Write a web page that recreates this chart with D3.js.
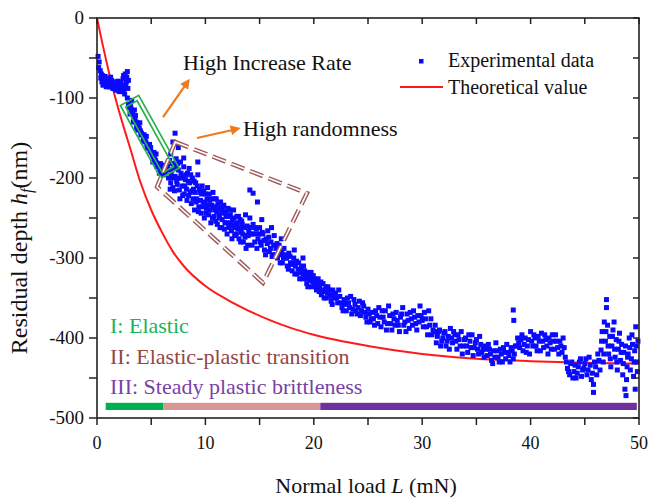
<!DOCTYPE html>
<html><head><meta charset="utf-8">
<script src="https://cdn.jsdelivr.net/npm/d3@7/dist/d3.min.js"></script>
<style>
html,body{margin:0;padding:0;background:#fff;}
svg{display:block;}
</style></head>
<body>
<svg id="chart" width="649" height="500" font-family="'Liberation Serif','Times New Roman',Times,serif"></svg>
<script>
// ---------- data ----------
const xTicks = [0, 10, 20, 30, 40, 50];
const yTicks = [0, -100, -200, -300, -400, -500];
const theoLoad  = [0, 0.5, 1, 1.5, 2, 2.5, 3, 4, 5, 6, 7, 8, 10, 12, 14, 16, 18, 20, 25, 30, 35, 40, 45, 50];
const theoDepth = [0, -32, -62, -90, -115, -138, -160, -205, -240, -268, -292, -310, -335, -352, -366, -378, -388, -396, -410, -420, -426, -429, -431, -432];
const expLoad = [
 0.1,0.2,0.3,0.35,0.45,0.5,0.6,0.7,0.8,0.9,1.0,1.1,1.2,1.3,1.4,1.5,1.6,1.7,1.8,1.9,2.0,2.1,2.2,2.3,2.4,2.5,2.6,2.7,2.8,2.9,2.55,2.35,1.95,1.25,0.75,
 2.8,2.9,3.0,3.1,3.2,3.3,3.4,3.5,3.6,3.7,3.8,3.9,4.0,4.1,4.2,4.3,4.4,4.5,4.6,4.7,4.8,4.9,5.0,5.1,5.2,5.3,5.4,5.5,5.6,5.7,5.8,5.9,6.0,6.1,6.2,6.3,6.4,6.5,
 3.05,3.35,3.65,3.95,4.25,4.55,4.85,5.15,5.45,5.75,6.05,3.2,3.45,
 6.6,6.7,6.8,6.9,7.0,7.1,7.2,7.3,7.4,7.5,7.6,7.7,7.8,7.9,8.0,8.1,8.2,8.3,8.4,8.5,8.6,8.7,8.8,8.9,9.0,9.1,9.2,9.3,9.4,9.5,9.6,9.7,9.8,9.9,10.0,10.1,10.2,10.3,10.4,10.5,10.6,10.7,10.8,10.9,11.0,11.1,11.2,11.3,11.4,11.5,11.6,11.7,11.8,11.9,12.0,12.1,12.2,12.3,12.4,12.5,12.6,12.7,12.8,12.9,13.0,13.1,13.2,13.3,13.4,13.5,13.6,13.7,13.8,13.9,14.0,
 7.2,7.0,7.5,6.8,14.1,14.4,14.8,8.0,9.3,
 14.1,14.25,14.4,14.55,14.7,14.85,15.0,15.15,15.3,15.45,15.6,15.75,15.9,16.05,16.2,16.35,16.5,16.65,16.8,16.95,17.1,17.25,17.4,17.55,17.7,17.85,18.0,18.15,18.3,18.45,18.6,18.75,18.9,19.05,19.2,19.35,19.5,19.65,19.8,19.95,20.1,20.25,20.4,20.55,20.7,20.85,21.0,21.15,21.3,21.45,21.6,21.75,21.9,
 15.2,16.1,17.0,18.2,19.0,
 22.0,22.2,22.4,22.6,22.8,23.0,23.2,23.4,23.6,23.8,24.0,24.2,24.4,24.6,24.8,25.0,25.2,25.4,25.6,25.8,26.0,26.2,26.4,26.6,26.8,27.0,27.2,27.4,27.6,27.8,28.0,28.2,28.4,28.6,28.8,29.0,29.2,29.4,29.6,29.8,30.0,30.2,30.4,30.6,30.8,31.0,
 25.3,26.9,28.5,30.5,
 31.2,31.4,31.6,31.8,32.0,32.2,32.4,32.6,32.8,33.0,33.2,33.4,33.6,33.8,34.0,34.2,34.4,34.6,34.8,35.0,35.2,35.4,35.6,
 35.8,36.0,36.2,36.4,36.6,36.8,37.0,37.2,37.4,37.6,37.8,38.0,38.2,38.4,38.6,38.4,38.45,
 38.8,39.0,39.2,39.4,39.6,39.8,40.0,40.2,40.4,40.6,40.8,41.0,41.2,41.4,41.6,41.8,42.0,42.2,42.4,42.6,42.8,43.0,
 43.2,43.4,43.6,43.8,44.0,44.2,44.4,44.6,44.8,45.0,45.2,45.4,45.6,45.8,45.8,46.0,46.2,46.4,
 46.5,46.6,46.7,46.8,46.9,47.0,47.0,47.1,47.2,47.3,47.4,47.5,47.6,47.7,47.8,47.9,48.0,48.1,48.2,48.3,48.4,48.5,48.6,48.7,48.8,48.9,49.0,49.1,49.2,49.3,49.4,49.5,49.6,49.7,49.8,49.9
];
const expDepth = [
 -48,-55,-66,-75,-80,-72,-78,-82,-76,-80,-84,-78,-82,-86,-80,-84,-88,-82,-86,-90,-84,-88,-80,-92,-76,-86,-70,-80,-67,-78,-95,-84,-79,-74,-73,
 -100,-108,-112,-110,-118,-120,-124,-126,-130,-131,-136,-138,-141,-144,-146,-150,-152,-155,-158,-160,-163,-166,-168,-171,-173,-176,-178,-181,-183,-185,-188,-189,-190,-192,-190,-193,-188,-185,
 -120,-130,-137,-131,-154,-148,-158,-180,-170,-194,-184,-103,-115,
 -200,-178,-206,-190,-212,-184,-198,-176,-208,-190,-215,-180,-200,-222,-186,-210,-196,-228,-204,-188,-218,-232,-200,-214,-240,-206,-226,-196,-236,-218,-244,-210,-230,-250,-220,-238,-212,-246,-228,-256,-234,-218,-248,-240,-226,-258,-236,-250,-230,-262,-244,-234,-256,-248,-270,-238,-258,-246,-266,-252,-240,-272,-258,-248,-264,-276,-252,-268,-258,-280,-262,-246,-272,-284,-266,
 -144,-155,-162,-170,-215,-219,-230,-175,-180,
 -250,-270,-258,-280,-264,-276,-262,-284,-270,-290,-276,-266,-292,-280,-296,-272,-288,-300,-284,-296,-306,-288,-300,-310,-294,-306,-316,-300,-310,-320,-306,-318,-326,-310,-322,-332,-318,-328,-336,-322,-332,-340,-326,-336,-346,-332,-342,-350,-336,-346,-354,-340,-350,
 -252,-262,-276,-290,-300,
 -344,-356,-348,-362,-352,-366,-356,-348,-364,-358,-370,-354,-366,-360,-374,-364,-380,-368,-384,-372,-362,-386,-374,-366,-382,-372,-390,-376,-368,-384,-374,-362,-380,-370,-388,-376,-366,-382,-372,-360,-378,-368,-386,-366,-376,-390,
 -376,-360,-392,-396,
 -384,-398,-390,-404,-394,-410,-398,-388,-406,-396,-414,-402,-392,-410,-400,-418,-404,-396,-412,-402,-420,-408,-414,
 -410,-422,-414,-428,-416,-406,-424,-414,-430,-418,-408,-422,-412,-426,-410,-365,-378,
 -400,-412,-396,-408,-418,-402,-392,-410,-400,-416,-404,-394,-412,-402,-420,-406,-396,-414,-404,-420,-410,-400,
 -424,-438,-446,-430,-442,-450,-436,-426,-440,-432,-446,-424,-452,-468,-458,-436,-420,-440,
 -415,-392,-430,-380,-404,-352,-362,-384,-420,-398,-436,-410,-390,-380,-424,-402,-440,-414,-394,-428,-408,-446,-418,-464,-472,-436,-420,-400,-440,-426,-408,-448,-416,-386,-430,-404
];
// second reading pass of the denser parts of the cloud, [load, depth]
const expExtra = [
 [0.15,-62],[0.4,-70],[0.55,-84],[0.65,-76],[0.85,-86],[0.95,-78],[1.05,-80],[1.15,-86],[1.35,-78],[1.45,-88],[1.55,-80],[1.65,-84],[1.75,-90],[1.85,-80],[2.05,-92],[2.15,-82],[2.25,-86],[2.45,-90],[2.65,-84],[2.75,-74],[2.85,-88],[2.45,-72],
 [3.15,-114],[3.55,-122],[3.75,-140],[4.05,-146],[4.35,-146],[4.65,-162],[4.95,-162],[5.25,-168],[5.55,-186],[5.85,-182],[6.15,-196],[6.35,-186],
 [6.65,-190],[6.75,-214],[6.85,-196],[6.95,-182],[7.05,-200],[7.15,-216],[7.25,-188],[7.35,-204],[7.45,-182],[7.55,-200],[7.65,-226],[7.75,-194],[7.85,-210],[7.95,-198],[8.05,-220],[8.15,-202],[8.25,-214],[8.35,-194],[8.45,-222],[8.55,-206],[8.65,-196],[8.75,-216],[8.85,-226],[8.95,-204],[9.05,-218],[9.15,-230],[9.25,-210],[9.35,-242],[9.45,-214],[9.55,-228],[9.65,-220],[9.75,-236],[9.85,-216],[9.95,-232],[10.05,-244],[10.15,-226],[10.25,-234],[10.35,-220],[10.45,-240],[10.55,-226],[10.65,-250],[10.75,-236],[10.85,-226],[10.95,-254],[11.05,-242],[11.15,-232],[11.25,-246],[11.35,-262],[11.45,-240],[11.55,-252],[11.65,-236],[11.75,-264],[11.85,-242],[11.95,-256],[12.05,-248],[12.15,-262],[12.25,-240],[12.35,-256],[12.45,-276],[12.55,-260],[12.65,-250],[12.75,-262],[12.85,-270],[12.95,-256],[13.05,-248],[13.15,-262],[13.25,-280],[13.35,-254],[13.45,-270],[13.55,-262],[13.65,-274],[13.75,-288],[13.85,-260],[13.95,-272],
 [14.15,-262],[14.3,-284],[14.45,-270],[14.6,-262],[14.75,-288],[14.9,-270],[15.05,-280],[15.25,-268],[15.4,-278],[15.55,-296],[15.7,-282],[15.85,-274],[16.0,-288],[16.15,-298],[16.3,-284],[16.45,-296],[16.6,-282],[16.75,-292],[16.9,-306],[17.05,-292],[17.2,-300],[17.35,-296],[17.5,-300],[17.65,-314],[17.8,-298],[17.95,-308],[18.1,-306],[18.25,-320],[18.4,-304],[18.55,-314],[18.7,-326],[18.85,-312],[19.0,-320],[19.15,-316],[19.3,-326],[19.45,-336],[19.6,-322],[19.75,-318],[19.9,-330],[20.05,-326],[20.2,-336],[20.35,-332],[20.5,-342],[20.65,-330],[20.8,-340],[20.95,-350],[21.1,-336],[21.25,-344],[21.4,-340],[21.55,-348],[21.7,-358],[21.85,-344],
 [22.1,-350],[22.3,-340],[22.5,-356],[22.7,-366],[22.9,-358],[23.1,-350],[23.3,-362],[23.5,-370],[23.7,-352],[23.9,-366],[24.1,-362],[24.3,-372],[24.5,-356],[24.7,-368],[24.9,-380],[25.1,-370],[25.5,-376],[25.7,-366],[25.9,-382],[26.1,-374],[26.3,-366],[26.5,-380],[26.7,-390],[27.1,-382],[27.3,-370],[27.5,-384],[27.7,-378],[27.9,-392],[28.1,-370],[28.3,-384],[28.7,-378],[28.9,-368],[29.1,-384],[29.3,-374],[29.5,-390],[29.7,-380],[29.9,-372],[30.1,-386],[30.3,-376],[30.7,-384],[30.9,-396],
 [31.1,-392],[31.3,-406],[31.5,-392],[31.7,-410],[31.9,-400],[32.1,-392],[32.3,-404],[32.5,-414],[32.7,-400],[32.9,-392],[33.1,-404],[33.3,-396],[33.5,-410],[33.7,-420],[33.9,-402],[34.1,-410],[34.3,-396],[34.5,-412],[34.7,-422],[34.9,-406],[35.1,-414],[35.3,-398],[35.5,-418],
 [35.7,-424],[35.9,-414],[36.1,-408],[36.3,-420],[36.5,-432],[36.7,-424],[36.9,-416],[37.1,-430],[37.3,-420],[37.5,-412],[37.7,-426],[37.9,-418],[38.1,-430],[38.3,-416],[38.5,-420],[38.7,-410],
 [38.9,-406],[39.1,-402],[39.3,-416],[39.5,-400],[39.7,-410],[39.9,-420],[40.1,-404],[40.3,-396],[40.5,-410],[40.7,-398],[40.9,-416],[41.1,-404],[41.3,-396],[41.5,-410],[41.7,-400],[41.9,-414],[42.1,-404],[42.3,-396],[42.5,-412],[42.7,-404],[42.9,-418],[43.1,-412],
 [43.3,-430],[43.5,-442],[43.7,-432],[43.9,-450],[44.1,-434],[44.3,-444],[44.5,-430],[44.7,-448],[44.9,-438],[45.1,-426],[45.3,-440],[45.5,-434],[45.7,-444],[45.9,-430],[46.1,-446],[46.3,-428],
 [46.55,-404],[46.75,-420],[46.95,-392],[47.15,-410],[47.35,-426],[47.55,-398],[47.75,-414],[47.95,-430],[48.15,-404],[48.35,-418],[48.55,-432],[48.75,-410],[48.95,-424],[49.15,-412],[49.35,-396],[49.55,-430],[49.75,-410],[49.85,-442],[49.65,-464],[48.85,-452]
];
const regionLabels = ["I: Elastic", "II: Elastic-plastic transition", "III: Steady plastic brittleness"];
const regionStart = [0.8, 6.1, 20.6];
const regionEnd   = [6.1, 20.6, 49.8];
const regionColors = ["#00b050", "#d99694", "#7030a0"];
const regionTextColors = ["#19b35a", "#954545", "#7a3fa8"];

// ---------- layout ----------
const svg = d3.select("#chart");
const x = d3.scaleLinear().domain([0, 50]).range([97, 639]);
const y = d3.scaleLinear().domain([0, -500]).range([18, 418]);
const axisColor = "#222";

// theoretical curve
const line = d3.line().x((d,i)=>x(theoLoad[i])).y((d,i)=>y(theoDepth[i])).curve(d3.curveMonotoneX);
svg.append("path").datum(theoLoad).attr("d", line)
  .attr("fill","none").attr("stroke","#ff1a1a").attr("stroke-width",2);

// experimental points
const ms = 5;
const allPts = expLoad.map((v,i)=>[v, expDepth[i]]).concat(expExtra);
svg.append("g").selectAll("rect").data(allPts).join("rect")
  .attr("x",d=>x(d[0])-ms/2).attr("y",d=>y(d[1])-ms/2)
  .attr("width",ms).attr("height",ms).attr("fill","#0a0aff");

// green box (double rectangle)
function rotRect(p1, p2, half, inset){
  const dx=p2[0]-p1[0], dy=p2[1]-p1[1], L=Math.hypot(dx,dy);
  const ux=dx/L, uy=dy/L, nx=-uy, ny=ux;
  const a=[p1[0]+ux*inset, p1[1]+uy*inset], b=[p2[0]-ux*inset, p2[1]-uy*inset];
  return [[a[0]+nx*half,a[1]+ny*half],[b[0]+nx*half,b[1]+ny*half],[b[0]-nx*half,b[1]-ny*half],[a[0]-nx*half,a[1]-ny*half]];
}
const gp1=[x(3.0), y(-103)], gp2=[x(6.73), y(-194)];
[[10.5,0],[6.5,4]].forEach(([h,ins])=>{
  svg.append("polygon").attr("points", rotRect(gp1,gp2,h,ins).map(p=>p.join(",")).join(" "))
    .attr("fill","none").attr("stroke","#2bb24c").attr("stroke-width",1.7);
});

// brown dashed double-line polygon
const brownPoly = [[x(7.22),y(-155)],[x(19.37),y(-219)],[x(15.31),y(-331)],[x(5.54),y(-211)]];
const bpath = "M"+brownPoly.map(p=>p.join(",")).join("L")+"Z";
svg.append("path").attr("d",bpath).attr("fill","none").attr("stroke","#a05a5a")
  .attr("stroke-width",4.5).attr("stroke-dasharray","14,6");
svg.append("path").attr("d",bpath).attr("fill","none").attr("stroke","#fff")
  .attr("stroke-width",1.6).attr("stroke-dasharray","14,6");

// orange arrows
svg.append("defs").append("marker").attr("id","arr").attr("viewBox","0 0 10 10")
  .attr("refX",5).attr("refY",5).attr("markerWidth",4.5).attr("markerHeight",4.5).attr("orient","auto")
  .append("path").attr("d","M0,0L10,5L0,10Z").attr("fill","#ec7a1e");
const arrows = [[[x(6.09),y(-124)],[x(8.3),y(-81)]],[[x(9.23),y(-150)],[x(12.8),y(-139)]]];
arrows.forEach(a=>{
  svg.append("line").attr("x1",a[0][0]).attr("y1",a[0][1]).attr("x2",a[1][0]).attr("y2",a[1][1])
    .attr("stroke","#ec7a1e").attr("stroke-width",2.2).attr("marker-end","url(#arr)");
});
svg.append("text").attr("x",183).attr("y",70).attr("font-size",22).attr("fill","#111").text("High Increase Rate");
svg.append("text").attr("x",243).attr("y",136).attr("font-size",22).attr("fill","#111").text("High randomness");

// region bars & labels
regionStart.forEach((s,i)=>{
  svg.append("rect").attr("x",x(s)).attr("y",y(-481)).attr("width",x(regionEnd[i])-x(s))
    .attr("height",y(-490)-y(-481)).attr("fill",regionColors[i]);
});
const rlY=[333,364,394];
regionLabels.forEach((t,i)=>{
  svg.append("text").attr("x",110).attr("y",rlY[i]).attr("font-size",22).attr("fill",regionTextColors[i]).text(t);
});

// legend
svg.append("rect").attr("x",419).attr("y",59).attr("width",4.5).attr("height",4.5).attr("fill","#0a0aff");
svg.append("text").attr("x",448).attr("y",67).attr("font-size",20).attr("fill","#111").text("Experimental data");
svg.append("line").attr("x1",400).attr("x2",443).attr("y1",87).attr("y2",87).attr("stroke","#ff1a1a").attr("stroke-width",2);
svg.append("text").attr("x",448).attr("y",94).attr("font-size",20).attr("fill","#111").text("Theoretical value");

// axes frame
const g = svg.append("g").attr("stroke",axisColor);
g.append("rect").attr("x",x(0)).attr("y",y(0)).attr("width",x(50)-x(0)).attr("height",y(-500)-y(0))
  .attr("fill","none").attr("stroke-width",1.6);
const xMinor = d3.range(0, 51, 5), yMinor = d3.range(0, -501, -50);
xMinor.forEach(v=>{
  g.append("line").attr("x1",x(v)).attr("x2",x(v)).attr("y1",y(-500)).attr("y2",y(-500)+7).attr("stroke-width",1.5);
  g.append("line").attr("x1",x(v)).attr("x2",x(v)).attr("y1",y(0)).attr("y2",y(0)+6).attr("stroke-width",1.5);
});
yMinor.forEach(v=>{
  g.append("line").attr("x1",x(0)-8).attr("x2",x(0)).attr("y1",y(v)).attr("y2",y(v)).attr("stroke-width",1.5);
  g.append("line").attr("x1",x(50)-6).attr("x2",x(50)).attr("y1",y(v)).attr("y2",y(v)).attr("stroke-width",1.5);
});
svg.append("g").selectAll("text").data(xTicks).join("text")
  .attr("x",d=>x(d)).attr("y",449).attr("text-anchor","middle").attr("font-size",18).attr("fill","#111").text(d=>d);
svg.append("g").selectAll("text").data(yTicks).join("text")
  .attr("x",84).attr("y",d=>y(d)+6).attr("text-anchor","end").attr("font-size",19).attr("fill","#111").text(d=>d);

// axis titles
const xt = svg.append("text").attr("x",366).attr("y",493).attr("text-anchor","middle").attr("font-size",22).attr("fill","#111");
xt.append("tspan").text("Normal load ");
xt.append("tspan").attr("font-style","italic").text("L");
xt.append("tspan").text(" (mN)");
const yt = svg.append("text").attr("transform","translate(27,248) rotate(-90)").attr("text-anchor","middle").attr("font-size",24).attr("fill","#111");
yt.append("tspan").text("Residual depth ");
yt.append("tspan").attr("font-style","italic").text("h");
yt.append("tspan").attr("font-style","italic").attr("font-size",16).attr("dy",5).text("f");
yt.append("tspan").attr("dy",-5).text("(nm)");
</script>
</body></html>
